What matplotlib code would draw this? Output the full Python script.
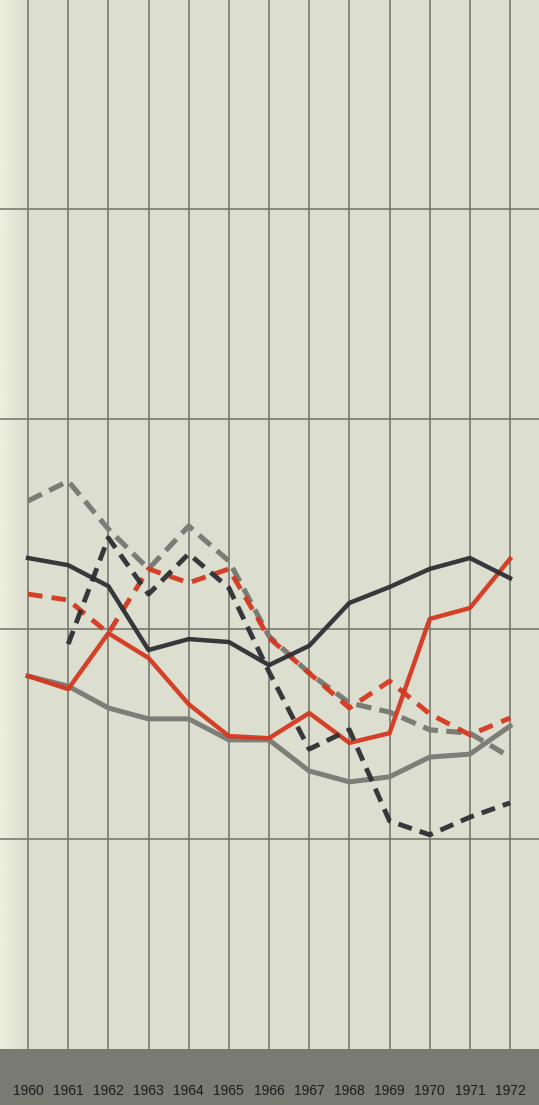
import matplotlib
matplotlib.use("Agg")
import matplotlib.pyplot as plt
import numpy as np

years = [1960, 1961, 1962, 1963, 1964, 1965, 1966, 1967, 1968, 1969, 1970, 1971, 1972]
year_labels = [str(y) for y in years]

black_solid = [116.9, 115.2, 110.2, 95.0, 97.6, 96.9, 91.4, 96.0, 106.2, 110.0, 114.3, 116.9, 112.1]
black_dashed_years = years[1:]
black_dashed = [96.4, 121.7, 108.3, 117.9, 109.8, 89.8, 71.4, 76.0, 54.3, 51.0, 55.2, 58.6]
red_solid = [88.8, 85.7, 99.0, 93.1, 82.1, 74.5, 74.0, 80.0, 72.9, 75.2, 102.4, 105.0, 116.7]
red_dashed = [108.3, 106.9, 99.0, 114.3, 111.0, 114.3, 97.9, 89.5, 81.2, 87.6, 79.8, 74.8, 78.8]
gray_solid = [88.8, 86.4, 81.2, 78.6, 78.6, 73.6, 73.6, 66.2, 63.6, 64.8, 69.5, 70.2, 76.9]
gray_dashed = [130.5, 135.2, 123.8, 114.3, 124.5, 116.2, 98.3, 89.5, 82.4, 80.2, 76.0, 75.2, 69.5]
h_grid = [50, 100, 150, 200]

W, H = 539, 1105
fig = plt.figure(figsize=(W / 100, H / 100), dpi=100)
fig.patch.set_facecolor("#797a71")

band_top = 1049
ax = fig.add_axes([0, (H - band_top) / H, 1, band_top / H])
ax.set_facecolor("#dcdfd0")

px_per_year = 40.17
x0 = 1960 - 28 / px_per_year
x1 = 1960 + (W - 28) / px_per_year
ax.set_xlim(x0, x1)
ax.set_ylim(0, band_top / 4.2)

# lighter page edge on the left
grad = np.linspace(0, 1, 256)
alpha = np.clip(1 - grad, 0, 1) ** 1.5
img = np.zeros((1, 256, 4))
img[..., :3] = np.array([240, 243, 226]) / 255
img[0, :, 3] = alpha * 0.9
ax.imshow(img, extent=[x0, x0 + 34 / px_per_year, 0, band_top / 4.2],
          aspect="auto", zorder=0.5, interpolation="bilinear")

grid_c = "#70726a"
for y in years:
    ax.axvline(y, color=grid_c, lw=1.1, zorder=1)
for h in h_grid:
    ax.axhline(h, color=grid_c, lw=1.1, zorder=1)

lw = 3.2
ax.plot(years, gray_solid, color="#7c7e77", lw=lw + 0.4, zorder=2)
ax.plot(years, gray_dashed, color="#7a7c75", lw=lw + 0.5, zorder=2,
        dashes=(3.0, 1.6))
ax.plot(years, red_solid, color="#d5371f", lw=lw, zorder=3, alpha=0.95)
ax.plot(years, red_dashed, color="#d5371f", lw=lw + 0.3, zorder=3, dashes=(3.0, 1.9), alpha=0.95)
ax.plot(years, black_solid, color="#2e2f33", lw=lw, zorder=4, alpha=0.95)
ax.plot(black_dashed_years, black_dashed, color="#2e2f33", lw=lw + 0.3, zorder=4,
        dashes=(2.9, 1.7), alpha=0.95)

ax.set_xticks(years)
ax.set_xticklabels(year_labels, fontsize=10, family="Liberation Sans", color="#1b1c1c")
ax.tick_params(axis="x", length=0, pad=25)
ax.set_yticks([])
for s in ax.spines.values():
    s.set_visible(False)

fig.savefig("out.png", dpi=100, facecolor=fig.get_facecolor())
